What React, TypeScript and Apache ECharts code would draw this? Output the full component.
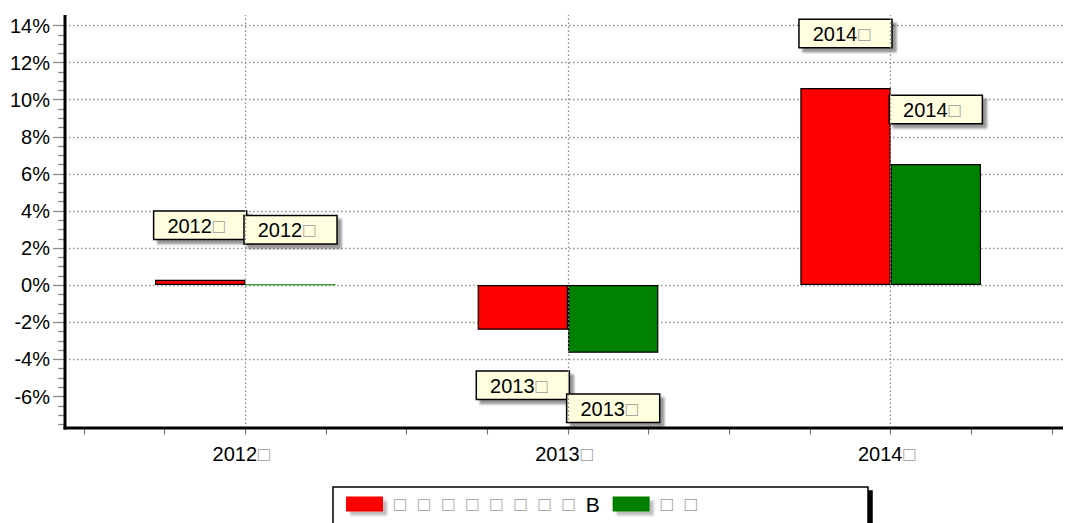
import React, { useEffect, useRef } from 'react';
import * as echarts from 'echarts';

// ---- data ----
const categories: string[] = ['2012□', '2013□', '2014□'];
const seriesNames: string[] = ['□□□□□□□□B', '□□'];
const fundReturns: number[] = [0.28, -2.42, 10.63];
const benchmarkReturns: number[] = [0.02, -3.66, 6.53];
const yLabelValues: number[] = [-6, -4, -2, 0, 2, 4, 6, 8, 10, 12, 14];
const seriesColors: string[] = ['#FF0000', '#008000'];

const FONT = '"Liberation Sans", Arial, Helvetica, sans-serif';
const Y_MIN = -8;
const Y_MAX = 14;
const PLOT_MIN = -7.72;
const PLOT_MAX = 14.57;

const tofuRich = (s: string) => s.replace(/□/g, '{t|□}');

const legendRich = (s: string) =>
  s
    .split('')
    .map((c) => (c === '□' ? '{t|□}' : `{b|${c}}`))
    .join('');

const buildData = (vals: number[], color: string) =>
  vals.map((v) => ({
    value: v,
    label: { position: v < 0 ? 'bottom' : 'top', distance: v < 0 ? 42 : 41 },
    itemStyle: Math.abs(v) < 0.1 ? { borderColor: color } : undefined,
  }));

export default function App() {
  const ref = useRef<HTMLDivElement>(null);

  useEffect(() => {
    document.body.style.margin = '0';
    if (!ref.current) return;
    const chart = echarts.init(ref.current, null, { renderer: 'svg' });

    const splitColors = yLabelValues.map(() => '#8c8c8c');
    splitColors.unshift('rgba(0,0,0,0)');

    const tofuStyle = { color: '#9a9a9a', fontSize: 20, fontFamily: FONT, padding: [0, 8, 0, 1] };

    const barLabel = {
      show: true,
      formatter: (p: any) => tofuRich(p.name),
      fontFamily: FONT,
      fontSize: 20,
      color: '#000',
      backgroundColor: '#FFFFE0',
      borderColor: '#000',
      borderWidth: 1.5,
      padding: [4, 13, 3, 13],
      shadowColor: 'rgba(0,0,0,0.4)',
      shadowOffsetX: 4,
      shadowOffsetY: 4,
      shadowBlur: 2,
      rich: { t: tofuStyle },
    };

    const option: any = {
      animation: false,
      backgroundColor: '#fff',
      textStyle: { fontFamily: FONT },
      grid: [
        { left: 84, right: 13, top: 15, bottom: 95, containLabel: false },
        { left: 65, right: 2, top: 25.5, bottom: 89.4, containLabel: false },
      ],
      xAxis: [
        {
          type: 'category',
          gridIndex: 0,
          position: 'bottom',
          data: categories,
          axisLine: { show: false },
          axisTick: { show: false },
          splitLine: { show: false },
          axisLabel: {
            margin: 16,
            fontFamily: FONT,
            fontSize: 20,
            color: '#000',
            formatter: (v: string) => tofuRich(v),
            rich: { t: tofuStyle },
          },
        },
        {
          type: 'value',
          gridIndex: 0,
          position: 'bottom',
          min: 0,
          max: 12,
          interval: 1,
          axisLine: { show: false },
          axisLabel: { show: false },
          splitLine: { show: false },
          axisTick: { show: true, length: 6.5, lineStyle: { color: '#777', width: 1.2 } },
        },
        {
          type: 'value',
          gridIndex: 1,
          min: 0,
          max: 1,
          show: false,
        },
      ],
      yAxis: [
        {
          type: 'value',
          gridIndex: 0,
          min: PLOT_MIN,
          max: PLOT_MAX,
          show: false,
        },
        {
          type: 'value',
          gridIndex: 1,
          min: Y_MIN,
          max: Y_MAX,
          interval: 2,
          axisLine: { show: false },
          axisTick: {
            show: true,
            length: 12,
            customValues: yLabelValues,
            lineStyle: { color: '#8a8a8a', width: 1.3 },
          },
          minorTick: {
            show: true,
            splitNumber: 4,
            length: 7,
            lineStyle: { color: '#8a8a8a', width: 1.3 },
          },
          axisLabel: {
            margin: 15,
            fontFamily: FONT,
            fontSize: 20,
            color: '#000',
            customValues: yLabelValues,
            formatter: (v: number) => (v <= Y_MIN ? '' : `${v}%`),
          },
          splitLine: {
            show: true,
            lineStyle: { color: splitColors, type: [1.5, 2.5], width: 1.3 },
          },
        },
      ],
      legend: {
        left: 346,
        top: 493,
        padding: 0,
        itemGap: 8,
        itemWidth: 37,
        itemHeight: 15,
        icon: 'rect',
        z: 5,
        itemStyle: {
          borderWidth: 0,
          shadowColor: 'rgba(0,0,0,0.25)',
          shadowOffsetX: 4,
          shadowOffsetY: 4,
          shadowBlur: 2,
        },
        formatter: (name: string) => legendRich(name),
        textStyle: {
          fontFamily: FONT,
          fontSize: 21,
          color: '#000',
          lineHeight: 22,
          rich: {
            t: { color: '#9a9a9a', fontSize: 20, fontFamily: FONT, padding: [0, 6, 0, 6] },
            b: { color: '#000', fontSize: 21, fontFamily: FONT, padding: [0, 5, 0, 5] },
          },
        },
        data: seriesNames,
      },
      graphic: [
        {
          type: 'rect',
          z: 1,
          silent: true,
          shape: { x: 333, y: 487, width: 535, height: 45 },
          style: {
            fill: '#fff',
            stroke: '#000',
            lineWidth: 1.5,
            shadowColor: '#000',
            shadowOffsetX: 4,
            shadowOffsetY: 4,
            shadowBlur: 0,
          },
        },
        {
          type: 'line',
          z: 10,
          silent: true,
          shape: { x1: 65, y1: 15, x2: 65, y2: 429.5 },
          style: { stroke: '#000', lineWidth: 3 },
        },
        {
          type: 'line',
          z: 10,
          silent: true,
          shape: { x1: 63.5, y1: 428, x2: 1063, y2: 428 },
          style: { stroke: '#000', lineWidth: 3 },
        },
      ],
      series: [
        {
          name: 'categoryGrid',
          type: 'line',
          xAxisIndex: 0,
          yAxisIndex: 0,
          silent: true,
          z: 1,
          data: [],
          markLine: {
            silent: true,
            symbol: ['none', 'none'],
            label: { show: false },
            lineStyle: { color: '#8c8c8c', type: [1.5, 2.5], width: 1.3 },
            data: categories.map((c) => ({ xAxis: c })),
          },
        },
        {
          name: seriesNames[0],
          type: 'bar',
          xAxisIndex: 0,
          yAxisIndex: 0,
          barGap: '0%',
          barCategoryGap: '44%',
          itemStyle: { color: seriesColors[0], borderColor: '#000', borderWidth: 1.2 },
          label: barLabel,
          data: buildData(fundReturns, seriesColors[0]),
        },
        {
          name: seriesNames[1],
          type: 'bar',
          xAxisIndex: 0,
          yAxisIndex: 0,
          barGap: '0%',
          barCategoryGap: '44%',
          itemStyle: { color: seriesColors[1], borderColor: '#000', borderWidth: 1.2 },
          label: barLabel,
          data: buildData(benchmarkReturns, seriesColors[1]),
        },
      ],
    };

    chart.setOption(option);
    return () => chart.dispose();
  }, []);

  return <div ref={ref} style={{ width: 1065, height: 523 }} />;
}
